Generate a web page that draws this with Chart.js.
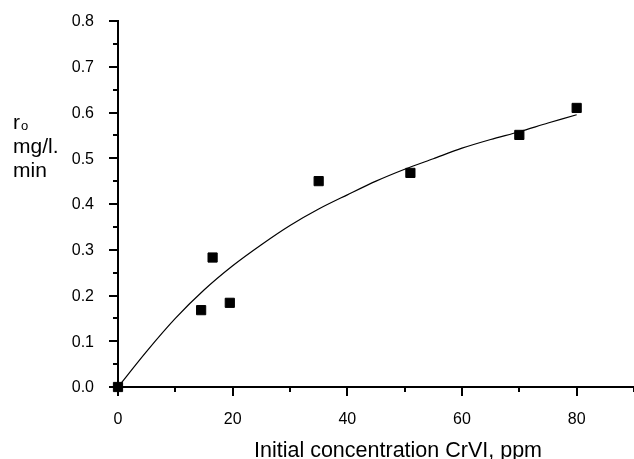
<!DOCTYPE html>
<html>
<head>
<meta charset="utf-8">
<title>Initial rate vs CrVI concentration</title>
<script src="https://cdn.jsdelivr.net/npm/chart.js@4"></script>
<style>
  body { margin: 0; background: #fff; }
  canvas { display: block; }
</style>
</head>
<body>
<canvas id="rateChart" width="634" height="459"></canvas>
<script>
// measured points (ppm, mg/l.min)
const concentration = [0, 14.5, 16.5, 19.5, 35, 51, 70, 80];
const rate = [0, 0.168, 0.283, 0.184, 0.450, 0.468, 0.551, 0.610];

// fitted curve
const fitConc = [0, 5, 10, 15, 20, 25, 30, 35, 40, 45, 50, 55, 60, 65, 70, 75, 80];
const fitRate = [0, 0.078, 0.150, 0.212, 0.265, 0.311, 0.353, 0.389, 0.420, 0.450, 0.476, 0.499, 0.522, 0.541, 0.558, 0.577, 0.595];

// labelled ticks
const xTickLabels = [0, 20, 40, 60, 80];
const yTickLabels = [0, 0.1, 0.2, 0.3, 0.4, 0.5, 0.6, 0.7, 0.8];

const xTitle = 'Initial concentration CrVI, ppm';
const fontFamily = '"Liberation Sans", Arial, sans-serif';

// tick marks (major long, minor short), tick labels and axis titles
const axisDecor = {
  id: 'axisDecor',
  afterDraw(chart) {
    const ctx = chart.ctx;
    const xs = chart.scales.x;
    const ys = chart.scales.y;
    ctx.save();
    ctx.strokeStyle = '#000';
    ctx.lineWidth = 2;
    ys.ticks.forEach((t, i) => {
      const py = Math.round(ys.getPixelForValue(t.value));
      const len = i % 2 === 0 ? 9 : 5;
      ctx.beginPath();
      ctx.moveTo(ys.right, py);
      ctx.lineTo(ys.right - len, py);
      ctx.stroke();
    });
    xs.ticks.forEach((t, i) => {
      const px = Math.round(xs.getPixelForValue(t.value));
      const len = i % 2 === 0 ? 9 : 5;
      ctx.beginPath();
      ctx.moveTo(px, xs.top);
      ctx.lineTo(px, xs.top + len);
      ctx.stroke();
    });

    ctx.fillStyle = '#000';
    ctx.font = '16px ' + fontFamily;
    ctx.textAlign = 'right';
    ctx.textBaseline = 'middle';
    yTickLabels.forEach(v => {
      ctx.fillText(v.toFixed(1), ys.right - 24, ys.getPixelForValue(v) + 1);
    });
    ctx.textAlign = 'center';
    ctx.textBaseline = 'alphabetic';
    xTickLabels.forEach(v => {
      ctx.fillText(String(v), xs.getPixelForValue(v), xs.top + 37);
    });

    ctx.textAlign = 'left';
    ctx.font = '21.5px ' + fontFamily;
    ctx.fillText(xTitle, 254, 457);
    ctx.font = '21px ' + fontFamily;
    ctx.fillText('r', 13, 129);
    ctx.fillText('mg/l.', 13, 153);
    ctx.fillText('min', 13, 177);
    ctx.font = '13px ' + fontFamily;
    ctx.fillText('o', 21, 130);
    ctx.restore();
  }
};

const ctx = document.getElementById('rateChart').getContext('2d');
const rateChart = new Chart(ctx, {
  type: 'scatter',
  data: {
    datasets: [{
      label: 'fit',
      data: fitConc.map((c, i) => ({ x: c, y: fitRate[i] })),
      showLine: true,
      borderColor: '#000',
      borderWidth: 1.2,
      pointRadius: 0,
      tension: 0.3,
      fill: false
    }, {
      label: 'measured',
      data: concentration.map((c, i) => ({ x: c, y: rate[i] })),
      pointStyle: 'rect',
      pointRadius: 6.5,
      borderWidth: 1,
      borderColor: '#000',
      backgroundColor: '#000',
      clip: false
    }]
  },
  options: {
    responsive: false,
    animation: false,
    layout: { autoPadding: false, padding: { top: 21, left: 0, right: 0, bottom: 0 } },
    plugins: {
      legend: { display: false },
      tooltip: { enabled: false }
    },
    scales: {
      x: {
        type: 'linear',
        min: 0,
        max: 90,
        afterFit: s => { s.height = 72; },
        border: { color: '#000', width: 2 },
        grid: { display: true, drawOnChartArea: false, drawTicks: false, color: 'rgba(0,0,0,0)' },
        ticks: { stepSize: 10, display: false }
      },
      y: {
        type: 'linear',
        min: 0,
        max: 0.8,
        afterFit: s => { s.width = 118; },
        border: { color: '#000', width: 2 },
        grid: { display: true, drawOnChartArea: false, drawTicks: false, color: 'rgba(0,0,0,0)' },
        ticks: { stepSize: 0.05, display: false }
      }
    }
  },
  plugins: [axisDecor]
});
</script>
</body>
</html>
